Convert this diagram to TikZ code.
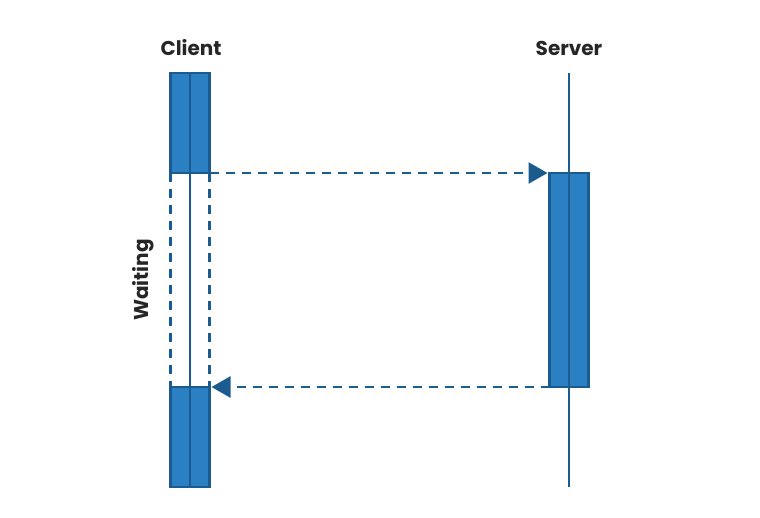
\documentclass[tikz,border=0pt]{standalone}
\usepackage{fontspec}
\setmainfont{Poppins}
\usetikzlibrary{arrows.meta}

\definecolor{barfill}{HTML}{2A80C2}
\definecolor{barline}{HTML}{1B5B90}
\definecolor{headtext}{HTML}{262626}

\tikzset{
    actbar/.style={draw=barline, fill=barfill, line width=2.4pt, minimum width=39pt, minimum height=100pt, inner sep=0pt, outer sep=0pt},
    lifeline/.style={draw=barline, line width=2.6pt},
    waitline/.style={draw=barline, line width=2.6pt, dash pattern=on 9pt off 7pt},
    msg/.style={draw=barline, line width=2.6pt, dash pattern=on 9pt off 7pt, -{Triangle[length=19pt,width=21pt]}, shorten >=2pt},
    head/.style={font=\bfseries\fontsize{20}{24}\selectfont, text=headtext}
}

\begin{document}
\begin{tikzpicture}[x=1pt,y=-1pt]
    \useasboundingbox (0,0) rectangle (760,517);

    % Server lifeline
    \coordinate (serverTopEnd) at (569,73);
    \coordinate (serverBotEnd) at (569,487);
    \draw[lifeline] (serverTopEnd) -- (serverBotEnd);

    % Activation bars
    \node[actbar] (clientTop) at (190,123) {};
    \node[actbar] (clientBot) at (190,437) {};
    \node[actbar, minimum height=214pt] (serverAct) at (569,280) {};
    \foreach \bar in {clientTop, clientBot, serverAct} {
        \draw[lifeline] (\bar.north) -- (\bar.south);
    }
    \draw[lifeline] (clientTop.south) -- (clientBot.north);

    % Waiting borders
    \draw[waitline] (clientTop.south west) -- (clientBot.north west);
    \draw[waitline] (clientTop.south east) -- (clientBot.north east);

    % Messages
    \draw[msg] (clientTop.south east) -- (serverAct.north west);
    \draw[msg] (serverAct.south west) -- (clientBot.north east);

    % Labels
    \node[head] (clientLabel) at (191,48) {Client};
    \node[head] (serverLabel) at (569,48) {Server};
    \node[head, rotate=90] (waitLabel) at (143,280) {Waiting};
\end{tikzpicture}
\end{document}
